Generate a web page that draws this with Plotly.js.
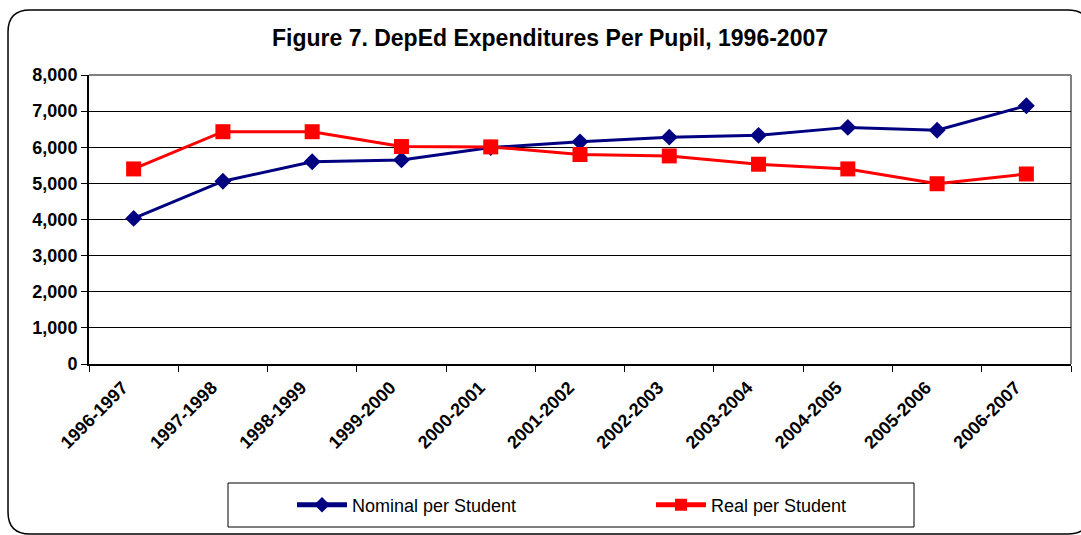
<!DOCTYPE html>
<html>
<head>
<meta charset="utf-8">
<script src="https://cdn.plot.ly/plotly-3.0.1.min.js"></script>
<style>html,body{margin:0;padding:0;background:#fff;}#chart{width:1081px;height:535px;}</style>
</head>
<body>
<div id="chart"></div>
<script>
const years = ["1996-1997","1997-1998","1998-1999","1999-2000","2000-2001","2001-2002","2002-2003","2003-2004","2004-2005","2005-2006","2006-2007"];
const nominalPerStudent = [4030, 5060, 5600, 5650, 5990, 6150, 6280, 6330, 6550, 6470, 7150];
const realPerStudent = [5400, 6430, 6430, 6020, 6010, 5800, 5760, 5530, 5400, 4990, 5260];
const yTickVals = [0,1000,2000,3000,4000,5000,6000,7000,8000];

// plot-area pixel geometry helpers (layout decoration only)
const W = 1081, H = 535;
const L = 89, R = 1071, T = 75, B = 364;
const xp = px => (px - L) / (R - L);
const yp = py => (B - py) / (B - T);

const fx = [8, 1090], fy = [10, 534], rad = 22;
function framePath(){
  const x0=fx[0], x1=fx[1], y0=fy[0], y1=fy[1];
  const pts = [
    ['M', x0+rad, y0], ['L', x1-rad, y0], ['Q', x1, y0, x1, y0+rad],
    ['L', x1, y1-rad], ['Q', x1, y1, x1-rad, y1], ['L', x0+rad, y1],
    ['Q', x0, y1, x0, y1-rad], ['L', x0, y0+rad], ['Q', x0, y0, x0+rad, y0]
  ];
  return pts.map(p => {
    const c = p[0]; const a = p.slice(1); const out = [];
    for (let i=0;i<a.length;i+=2) out.push(xp(a[i]).toFixed(5)+','+yp(a[i+1]).toFixed(5));
    return c + out.join(' ');
  }).join(' ') + ' Z';
}

const font = "Arial, 'Liberation Sans', sans-serif";

const traces = [
  {x: years, y: nominalPerStudent, name: "Nominal per Student", type: "scatter", mode: "lines+markers",
   line: {color: "#000080", width: 3}, marker: {symbol: "diamond", size: 13, color: "#000080"}},
  {x: years, y: realPerStudent, name: "Real per Student", type: "scatter", mode: "lines+markers",
   line: {color: "#FF0000", width: 3}, marker: {symbol: "square", size: 15, color: "#FF0000"}}
];

const layout = {
  width: W, height: H,
  margin: {l: L, r: W - R, t: T, b: H - B, pad: 0, autoexpand: false},
  paper_bgcolor: "#fff", plot_bgcolor: "#fff",
  font: {family: font, color: "#000"},
  showlegend: true,
  title: {text: "Figure 7. DepEd Expenditures Per Pupil, 1996-2007",
    font: {family: font, size: 23, weight: "bold", color: "#000"},
    xref: "container", yref: "container", x: 550/W, xanchor: "center", y: 1 - 38/H, yanchor: "middle"},
  xaxis: {type: "category", range: [-0.5, 10.5], tickangle: -45, tickson: "boundaries",
    ticks: "outside", ticklen: 6, tickcolor: "#000", tickwidth: 1,
    ticklabelshift: -11, ticklabelstandoff: 4,
    showline: true, linecolor: "#000", linewidth: 2, showgrid: false, zeroline: false, automargin: false,
    tickfont: {family: font, size: 18, weight: "bold", color: "#000"}, fixedrange: true},
  yaxis: {range: [0, 8000], tickvals: yTickVals, tickformat: ",d",
    ticks: "outside", ticklen: 6, tickcolor: "#000", tickwidth: 1, automargin: false,
    showline: true, linecolor: "#000", linewidth: 2, showgrid: true, gridcolor: "#000", gridwidth: 1,
    zeroline: false, tickfont: {family: font, size: 18, weight: "bold", color: "#000"}, fixedrange: true},
  legend: {orientation: "h", xref: "container", yref: "container", x: 292/W, xanchor: "left", y: 1 - 505/H, yanchor: "middle",
    font: {family: font, size: 18, color: "#000"}, bgcolor: "rgba(0,0,0,0)", borderwidth: 0,
    entrywidth: 294, entrywidthmode: "pixels", itemsizing: "constant", itemwidth: 50},
  shapes: [
    {type: "line", xref: "paper", yref: "paper", x0: 0, x1: 1, y0: 1, y1: 1, line: {color: "#808080", width: 2}, layer: "below"},
    {type: "line", xref: "paper", yref: "paper", x0: 1, x1: 1, y0: 0, y1: 1, line: {color: "#808080", width: 2}, layer: "below"},
    {type: "rect", xref: "paper", yref: "paper", x0: xp(228), x1: xp(914), y0: yp(483), y1: yp(527), line: {color: "#000", width: 1}, fillcolor: "rgba(0,0,0,0)"},
    {type: "path", xref: "paper", yref: "paper", path: framePath(), line: {color: "#000", width: 1.5}, fillcolor: "rgba(0,0,0,0)"}
  ]
};

Plotly.newPlot("chart", traces, layout, {displayModeBar: false, staticPlot: true});
</script>
</body>
</html>
